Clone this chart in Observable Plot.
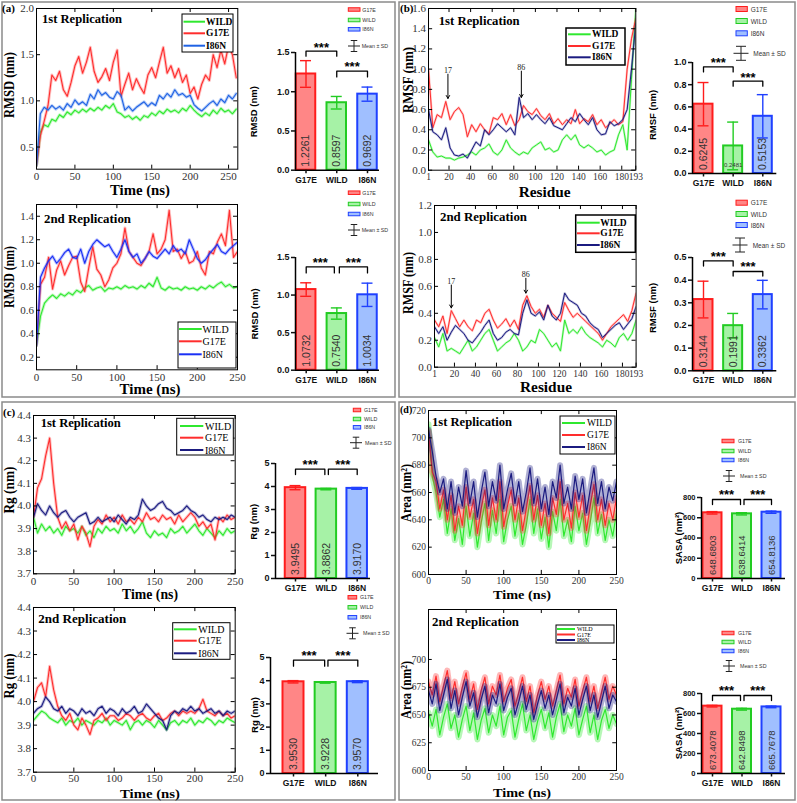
<!DOCTYPE html>
<html><head><meta charset="utf-8">
<script src="https://cdn.jsdelivr.net/npm/d3@7"></script>
<script src="https://cdn.jsdelivr.net/npm/@observablehq/plot@0.6"></script>
<style>
html,body{margin:0;padding:0;background:#fff}
body{position:relative;width:797px;height:803px;overflow:hidden}
</style></head><body>
<script>
// ---------------- DATA ----------------
const barCats = ["G17E","WILD","I86N"];
const lineNames = ["WILD","G17E","I86N"];

// (a) RMSD, 1st replication (every 5 ns)
const rmsdWild1 = [0.30,0.66,0.74,0.72,0.80,0.78,0.85,0.82,0.88,0.85,0.90,0.87,0.91,0.88,0.92,0.89,0.93,0.90,0.95,0.92,0.97,0.88,0.86,0.82,0.84,0.80,0.83,0.79,0.84,0.82,0.87,0.84,0.89,0.86,0.91,0.88,0.90,0.87,0.92,0.89,0.95,0.90,0.86,0.83,0.87,0.84,0.90,0.86,0.92,0.88,0.90,0.86,0.91];
const rmsdG17E1 = [0.30,0.62,0.78,0.95,1.28,1.22,1.32,1.12,1.05,1.20,1.38,1.48,1.30,1.42,1.58,1.32,1.20,1.26,1.35,1.22,1.42,1.55,1.05,1.18,1.30,1.12,1.24,1.15,1.08,1.28,1.36,1.25,1.42,1.58,1.30,1.38,1.25,1.35,1.20,1.28,1.08,1.15,1.02,1.18,1.28,1.22,1.50,1.36,1.55,1.40,1.60,1.50,1.25];
const rmsdI86N1 = [0.30,0.86,0.93,0.90,0.95,0.91,0.94,0.90,0.97,0.93,1.01,0.96,0.99,0.95,1.07,1.02,1.12,1.06,1.09,1.04,1.02,1.10,1.06,0.90,0.94,0.89,0.93,0.96,0.99,0.94,0.98,0.95,1.06,1.02,1.08,1.04,1.12,1.06,1.08,1.04,1.06,0.96,0.92,0.89,0.93,0.97,1.00,0.95,1.02,0.98,1.06,1.02,1.08];
// (a) RMSD, 2nd replication
const rmsdWild2 = [0.30,0.55,0.66,0.70,0.73,0.70,0.74,0.72,0.75,0.73,0.77,0.75,0.79,0.81,0.77,0.79,0.80,0.76,0.79,0.78,0.80,0.78,0.81,0.79,0.80,0.78,0.81,0.79,0.83,0.80,0.88,0.79,0.77,0.80,0.78,0.79,0.77,0.80,0.78,0.79,0.77,0.80,0.78,0.81,0.79,0.82,0.84,0.80,0.82,0.79,0.80];
const rmsdG17E2 = [0.30,0.82,0.88,1.05,0.78,0.94,1.02,0.90,0.98,1.05,1.06,0.84,0.76,0.96,1.14,0.95,0.90,0.80,0.86,0.96,1.00,1.08,1.30,1.10,1.05,1.00,0.98,1.04,1.10,1.25,1.08,1.12,1.20,1.45,1.10,1.12,1.04,1.10,1.00,1.02,1.10,0.96,0.90,1.10,1.08,1.18,1.25,1.15,1.45,1.05,1.10];
const rmsdI86N2 = [0.30,0.88,0.96,1.02,1.06,1.00,1.04,1.09,1.12,1.05,1.04,1.12,1.00,1.10,1.16,1.20,1.17,1.14,1.16,1.10,1.05,1.12,1.20,1.10,1.05,1.08,1.00,1.04,1.10,1.06,1.04,1.08,1.12,1.08,1.15,1.10,1.12,1.08,1.20,1.12,1.04,1.00,1.03,1.08,1.12,1.16,1.10,1.08,1.12,1.15,1.18];

// (b) RMSF, every 4 residues from 1 to 193
const rmsfWild1 = [0.30,0.18,0.13,0.14,0.12,0.12,0.10,0.12,0.13,0.15,0.18,0.15,0.20,0.22,0.26,0.18,0.15,0.20,0.30,0.22,0.18,0.15,0.18,0.16,0.22,0.25,0.28,0.20,0.22,0.18,0.20,0.30,0.35,0.30,0.35,0.25,0.22,0.25,0.22,0.18,0.20,0.15,0.18,0.20,0.35,0.45,0.20,0.90,1.60];
const rmsfG17E1 = [1.00,0.42,0.55,0.52,0.68,0.50,0.58,0.62,0.55,0.33,0.45,0.38,0.46,0.40,0.36,0.52,0.50,0.56,0.45,0.55,0.44,0.50,0.64,0.58,0.55,0.61,0.54,0.50,0.56,0.46,0.51,0.45,0.50,0.46,0.60,0.46,0.51,0.48,0.55,0.45,0.50,0.42,0.46,0.50,0.45,0.48,1.00,1.30,1.50];
const rmsfI86N1 = [0.60,0.38,0.35,0.30,0.42,0.22,0.15,0.14,0.16,0.12,0.20,0.28,0.24,0.40,0.35,0.40,0.46,0.42,0.38,0.42,0.35,0.72,0.52,0.56,0.50,0.55,0.50,0.46,0.52,0.44,0.42,0.40,0.46,0.52,0.48,0.56,0.50,0.45,0.52,0.40,0.35,0.36,0.48,0.44,0.46,0.50,0.60,1.00,1.45];
const rmsfWild2 = [0.22,0.15,0.25,0.12,0.14,0.12,0.10,0.15,0.20,0.12,0.15,0.20,0.25,0.28,0.20,0.12,0.15,0.18,0.20,0.25,0.20,0.12,0.15,0.20,0.18,0.28,0.25,0.20,0.15,0.18,0.12,0.35,0.25,0.28,0.25,0.30,0.25,0.22,0.20,0.18,0.15,0.20,0.18,0.15,0.22,0.25,0.20,0.25,0.35];
const rmsfG17E2 = [0.35,0.30,0.38,0.25,0.42,0.36,0.30,0.35,0.30,0.27,0.35,0.33,0.40,0.43,0.35,0.29,0.32,0.36,0.30,0.35,0.28,0.46,0.53,0.45,0.40,0.43,0.37,0.46,0.40,0.37,0.34,0.48,0.42,0.37,0.40,0.37,0.34,0.31,0.28,0.25,0.20,0.25,0.30,0.33,0.36,0.39,0.34,0.42,0.55];
const rmsfI86N2 = [0.30,0.25,0.30,0.20,0.26,0.31,0.28,0.25,0.20,0.18,0.22,0.26,0.31,0.35,0.25,0.20,0.22,0.26,0.28,0.25,0.24,0.40,0.50,0.40,0.38,0.41,0.35,0.46,0.38,0.35,0.40,0.55,0.50,0.48,0.46,0.40,0.38,0.33,0.30,0.28,0.22,0.25,0.28,0.31,0.33,0.28,0.32,0.36,0.45];

// (c) Rg
const rgWild1 = [3.95,3.88,3.92,3.89,3.91,3.88,3.90,3.87,3.91,3.89,3.90,3.88,3.91,3.87,3.89,3.86,3.90,3.88,3.91,3.89,3.90,3.88,3.92,3.89,3.91,3.88,3.90,3.93,3.88,3.86,3.89,3.87,3.88,3.86,3.90,3.88,3.89,3.91,3.88,3.90,3.92,3.89,3.87,3.90,3.88,3.86,3.89,3.87,3.90,3.88,3.89];
const rgG17E1 = [3.95,4.08,4.12,4.22,4.30,4.10,3.95,3.90,3.93,3.89,3.92,3.85,3.91,3.88,3.82,3.91,3.94,3.92,3.96,3.93,3.95,3.92,3.96,3.93,3.94,3.92,3.95,3.93,3.97,3.94,3.95,3.93,3.96,3.94,3.95,3.92,3.96,3.93,3.95,3.97,3.95,3.91,3.93,3.90,3.92,3.85,3.95,3.93,3.96,3.94,3.95];
const rgI86N1 = [3.95,4.01,3.98,3.96,4.00,3.97,3.95,3.97,3.98,3.95,3.93,3.95,3.96,3.97,3.92,3.93,3.95,3.93,3.94,3.95,3.93,3.96,3.94,3.92,3.95,3.94,3.96,4.03,4.00,3.98,3.99,4.01,4.02,3.99,3.98,3.96,3.97,3.98,4.00,3.98,3.97,3.95,3.96,3.94,3.93,3.95,3.94,3.95,3.94,3.96,3.95];
const rgWild2 = [3.92,3.94,3.96,3.95,3.93,3.92,3.91,3.93,3.90,3.92,3.91,3.93,3.90,3.92,3.91,3.90,3.92,3.91,3.93,3.90,3.92,3.91,3.90,3.92,3.88,3.91,3.92,3.90,3.92,3.91,3.89,3.92,3.90,3.88,3.91,3.92,3.90,3.92,3.91,3.93,3.90,3.92,3.91,3.93,3.92,3.90,3.92,3.91,3.93,3.92,3.91];
const rgG17E2 = [4.00,4.06,4.08,4.02,4.15,4.05,3.98,3.94,3.92,3.95,3.90,3.88,3.93,3.90,3.86,3.92,3.93,3.95,3.92,3.94,3.94,3.92,3.93,3.95,3.94,3.92,3.94,3.95,3.93,3.92,3.94,3.95,3.92,3.93,3.95,3.96,3.94,3.96,3.95,3.96,3.95,3.97,4.01,3.96,3.95,3.94,3.96,3.94,3.95,3.93,3.94];
const rgI86N2 = [3.95,3.97,3.98,4.02,4.00,3.97,3.96,3.98,3.95,3.97,3.96,3.94,3.97,3.95,3.96,3.94,3.97,3.98,3.95,3.97,3.96,3.94,3.97,3.95,3.96,3.98,3.95,3.96,3.99,3.97,3.95,3.93,3.92,3.88,3.94,3.96,3.95,3.97,3.96,3.98,3.96,3.97,3.95,3.96,3.97,3.95,3.96,3.94,3.96,3.95,3.96];

// (d) SASA
const sasaWild1 = [710,672,660,642,655,630,648,625,641,622,650,628,645,620,638,652,625,647,630,655,624,640,650,628,645,622,636,655,630,648,626,642,620,646,632,655,628,640,624,650,632,645,622,638,656,630,644,625,640,628,645];
const sasaG17E1 = [705,675,668,648,662,640,658,632,650,636,664,642,655,630,648,662,636,656,640,668,635,650,662,640,656,632,648,665,640,658,636,652,630,656,644,668,640,652,634,660,642,658,632,650,666,640,655,636,652,640,656];
const sasaI86N1 = [706,690,672,660,670,648,668,645,664,650,676,652,668,642,660,675,650,668,654,680,648,662,674,652,668,646,660,678,652,670,648,664,644,668,656,680,652,664,648,672,655,670,645,662,678,652,668,648,664,654,668];
const sasaWild2 = [652,640,655,632,648,660,638,650,630,646,658,636,652,628,645,656,634,650,640,658,632,648,654,630,646,660,636,650,628,644,655,638,652,630,648,660,635,650,640,656,632,646,658,634,650,628,645,655,638,650,642];
const sasaG17E2 = [680,668,685,662,676,690,665,680,660,675,688,664,678,655,672,684,660,676,668,686,662,674,682,658,670,684,662,676,652,668,680,664,676,658,672,686,660,674,666,682,658,672,684,662,676,656,670,684,664,676,668];
const sasaI86N2 = [672,660,678,654,668,682,656,672,650,666,680,658,670,648,664,676,652,668,660,678,654,666,674,650,662,676,655,668,646,660,672,656,668,650,664,678,652,666,658,674,650,664,676,654,668,648,662,676,656,668,662];

// bar charts: means and SD
const rmsdMean1 = [1.2261,0.8597,0.9692], rmsdSd1 = [0.17,0.08,0.09];
const rmsdMean2 = [1.0732,0.7540,1.0034], rmsdSd2 = [0.09,0.075,0.155];
const rmsfMean1 = [0.6245,0.2481,0.5153], rmsfSd1 = [0.195,0.215,0.195];
const rmsfMean2 = [0.3144,0.1991,0.3362], rmsfSd2 = [0.081,0.054,0.063];
const rgMean1 = [3.9495,3.8862,3.9170], rgSd1 = [0.09,0.03,0.04];
const rgMean2 = [3.9530,3.9228,3.9570], rgSd2 = [0.05,0.03,0.04];
const sasaMean1 = [648.6803,638.6414,654.8136], sasaSd1 = [12,11,11];
const sasaMean2 = [673.4078,642.8498,665.7678], sasaSd2 = [8,9,8];

// tick values
const timeTicks = [0,50,100,150,200,250];
const resTicks = [1,20,40,60,80,100,120,140,160,180,193];

// ---------------- STYLE ----------------
const SERIF = "'Liberation Serif','Times New Roman',serif";
const SANS = "'Liberation Sans',Arial,sans-serif";
const GREEN="#2fe82f", RED="#ff2d2d", BLUEA="#1f62e4", BLUEA2="#1a30f5", NAVY="#1b1b80";
const barFill=["#ff8686","#a6f2a6","#a0bfff"], barStroke=["#ff1c1c","#22cc22","#1f40ff"];

const mkT = (v)=>v.map((y,i)=>({x:i*5,y}));
const mkR = (v)=>v.map((y,i)=>({x:1+i*4,y}));

function place(node,x,y,z){const d=document.createElement("div");d.style.cssText=`position:absolute;left:${x}px;top:${y}px;z-index:${z||1}`;d.appendChild(node);document.body.appendChild(d);}

function lineChart(c){
  const padL=34,padR=8,padT=8,padB=22;
  const W=c.R-c.L+padL+padR, H=c.B-c.T+padT+padB;
  const [xa,xb]=c.xd,[ya,yb]=c.yd;
  const tx=(xb-xa)*0.02, ty=(yb-ya)*0.025;
  const fs=c.fs||11;
  const marks=[];
  for(const s of c.series){
    marks.push(Plot.line(s.data,{x:"x",y:"y",stroke:s.color,strokeWidth:c.halo||3,strokeOpacity:c.ho||0.3,clip:true}));
    marks.push(Plot.line(s.data,{x:"x",y:"y",stroke:s.color,strokeWidth:c.sw||1.1,clip:true}));
  }
  marks.push(
    Plot.ruleX(c.xt,{x:d=>d,y1:()=>ya,y2:()=>ya+ty,stroke:"#000"}),
    Plot.ruleX(c.xt,{x:d=>d,y1:()=>yb-ty,y2:()=>yb,stroke:"#000"}),
    Plot.ruleY(c.yt,{y:d=>d,x1:()=>xa,x2:()=>xa+tx,stroke:"#000"}),
    Plot.ruleY(c.yt,{y:d=>d,x1:()=>xb-tx,x2:()=>xb,stroke:"#000"}),
    Plot.frame({stroke:"#000",strokeWidth:1}),
    Plot.axisX({ticks:c.xt,tickSize:0,tickPadding:c.tp||3,label:null,fontSize:c.xfs||fs}),
    Plot.axisY({ticks:c.yt,tickSize:0,tickPadding:2.5,tickFormat:d3.format(c.yf),label:null,fontSize:fs})
  );
  if(c.arrows){
    marks.push(Plot.arrow(c.arrows,{x1:"x",x2:"x",y1:"y1",y2:"y2",stroke:"#000",strokeWidth:1,headLength:5}));
    marks.push(Plot.text(c.arrows,{x:"x",y:"yt",text:"lab",fontSize:8,fill:"#222"}));
  }
  const svg=Plot.plot({width:W,height:H,marginLeft:padL,marginRight:padR,marginTop:padT,marginBottom:padB,
    x:{domain:c.xd,label:null},y:{domain:c.yd,label:null},
    style:{fontFamily:SERIF,fontSize:fs+"px",color:"#333",background:"transparent",overflow:"visible",maxWidth:"none"},
    marks});
  place(svg,c.L-padL,c.T-padT,1);
}

function barChart(c){
  const k=(c.c2-c.c0)/2;
  const xd=[-(c.c0-c.ax)/k, 2+(c.rx-c.c2)/k];
  const p2v=py=>(c.zy-py)/(c.zy-c.ty)*c.ymax;
  const hw=c.bw/2/k, cw=c.cw/2/k;
  const rows=barCats.map((cat,i)=>({i,cat,mean:c.mean[i],sd:c.sd[i],fill:barFill[i],stroke:barStroke[i]}));
  const fmt=d3.format(".4f");
  const padL=36,padR=6,padT=50,padB=22;
  const marks=[
    Plot.rect(rows,{x1:d=>d.i-hw,x2:d=>d.i+hw,y1:()=>0,y2:"mean",fill:d=>d.fill,stroke:d=>d.stroke,strokeWidth:2}),
    Plot.ruleX(rows,{x:"i",y1:d=>d.mean-d.sd,y2:d=>d.mean+d.sd,stroke:d=>d.stroke,strokeWidth:1.4}),
    Plot.ruleY(rows,{y:d=>d.mean+d.sd,x1:d=>d.i-cw,x2:d=>d.i+cw,stroke:d=>d.stroke,strokeWidth:1.4}),
    Plot.ruleY(rows,{y:d=>d.mean-d.sd,x1:d=>d.i-cw,x2:d=>d.i+cw,stroke:d=>d.stroke,strokeWidth:1.4}),
    Plot.text(rows.filter(d=>!(c.small||[]).includes(d.i)),{x:"i",y:()=>0,text:d=>fmt(d.mean),rotate:-90,textAnchor:"start",dy:-3.5,fontSize:c.vfs||10.5,fill:"#333",fontWeight:"normal"}),
    Plot.text(rows.filter(d=>(c.small||[]).includes(d.i)),{x:"i",y:()=>0,text:d=>fmt(d.mean),dy:-8,fontSize:6,fill:"#333",fontWeight:"normal"}),
    Plot.ruleX([xd[0]],{x:d=>d,stroke:"#000",strokeWidth:1.5}),
    Plot.ruleY([0],{y:d=>d,stroke:"#000",strokeWidth:1.5}),
    Plot.axisY({ticks:c.yt,tickSize:4,tickPadding:2,tickFormat:d3.format(c.yf),label:null,fontSize:c.tfs||9,fontWeight:"bold",strokeWidth:1.5}),
    Plot.axisX({ticks:[0,1,2],tickFormat:i=>barCats[i],tickSize:3.5,tickPadding:3,label:null,fontSize:8.5,fontWeight:"bold",strokeWidth:1.5})
  ];
  for(const b of c.br){
    const xa=b.a+(b.oa||0)/k, xb=b.b+(b.ob||0)/k;
    marks.push(Plot.line([{x:xa,y:p2v(b.leg)},{x:xa,y:p2v(b.line)},{x:xb,y:p2v(b.line)},{x:xb,y:p2v(b.leg)}],{x:"x",y:"y",stroke:"#000",strokeWidth:1.3}));
    marks.push(Plot.text([{x:(xa+xb)/2,y:p2v(b.star)}],{x:"x",y:"y",text:()=>"***",fontSize:13,fontWeight:"bold",dy:3.2,fill:"#000"}));
  }
  const W=c.rx-c.ax+padL+padR, H=c.zy-c.ty+padT+padB;
  const svg=Plot.plot({width:W,height:H,marginLeft:padL,marginRight:padR,marginTop:padT,marginBottom:padB,
    x:{domain:xd,label:null},y:{domain:[0,c.ymax],label:null},
    style:{fontFamily:SANS,fontSize:"9px",color:"#111",background:"transparent",overflow:"visible",maxWidth:"none"},
    marks});
  place(svg,c.ax-padL,c.ty-padT,1);
}

// ---------------- LINE CHARTS ----------------
const S3=(w,g,b,blue)=>[{data:w,color:GREEN},{data:g,color:RED},{data:b,color:blue}];
lineChart({L:35.7,T:8.3,R:237,B:169,xd:[0,262],yd:[0.26,2.0],xt:timeTicks,yt:[0.5,1.0,1.5,2.0],yf:".1f",
  series:S3(mkT(rmsdWild1),mkT(rmsdG17E1),mkT(rmsdI86N1),BLUEA)});
lineChart({L:35.7,T:204,R:236.7,B:369.3,xd:[0,250],yd:[0.093,1.5],xt:timeTicks,yt:[0.2,0.4,0.6,0.8,1.0,1.2,1.4],yf:".1f",
  series:S3(mkT(rmsdWild2),mkT(rmsdG17E2),mkT(rmsdI86N2),BLUEA2)});
lineChart({L:428,T:8.3,R:635.3,B:170,xd:[1,193],yd:[0,1.6],xt:resTicks,yt:[0,0.2,0.4,0.6,0.8,1.0,1.2,1.4,1.6],yf:".1f",halo:2.2,sw:1,xfs:9.5,
  series:S3(mkR(rmsfWild1),mkR(rmsfG17E1),mkR(rmsfI86N1),NAVY),
  arrows:[{x:19,yt:0.99,y1:0.95,y2:0.71,lab:"17"},{x:87,yt:1.02,y1:0.98,y2:0.72,lab:"86"}]});
lineChart({L:433.7,T:205,R:635.3,B:366.7,xd:[1,193],yd:[0,1.2],xt:resTicks,yt:[0,0.2,0.4,0.6,0.8,1.0,1.2],yf:".1f",halo:2.2,sw:1,xfs:9.5,
  series:S3(mkR(rmsfWild2),mkR(rmsfG17E2),mkR(rmsfI86N2),NAVY),
  arrows:[{x:17,yt:0.64,y1:0.61,y2:0.44,lab:"17"},{x:88,yt:0.69,y1:0.66,y2:0.55,lab:"86"}]});
lineChart({L:33.3,T:415,R:235,B:573.3,xd:[0,250],yd:[3.7,4.4],xt:timeTicks,yt:[3.7,3.8,3.9,4.0,4.1,4.2,4.3,4.4],yf:".1f",
  series:S3(mkT(rgWild1),mkT(rgG17E1),mkT(rgI86N1),NAVY)});
lineChart({L:33.3,T:607.3,R:235,B:772,xd:[0,250],yd:[3.7,4.4],xt:timeTicks,yt:[3.7,3.8,3.9,4.0,4.1,4.2,4.3,4.4],yf:".1f",tp:2,
  series:S3(mkT(rgWild2),mkT(rgG17E2),mkT(rgI86N2),NAVY)});
lineChart({L:428,T:410,R:616,B:574,xd:[0,250],yd:[600,720],xt:timeTicks,yt:[600,620,640,660,680,700,720],yf:"d",halo:6,ho:0.35,sw:1.2,fs:9.5,tp:2.5,
  series:S3(mkT(sasaWild1),mkT(sasaG17E1),mkT(sasaI86N1),NAVY)});
lineChart({L:428,T:609,R:616,B:770,xd:[0,250],yd:[600,745],xt:timeTicks,yt:[600,625,650,675,700],yf:"d",halo:6,ho:0.35,sw:1.2,fs:9.5,tp:2.5,
  series:S3(mkT(sasaWild2),mkT(sasaG17E2),mkT(sasaI86N2),NAVY)});

// ---------------- BAR CHARTS ----------------
barChart({ax:295,rx:379,c0:305.5,c2:367,zy:170,ty:52.3,ymax:1.5,bw:19.5,cw:11,yt:[0,0.5,1.0,1.5],yf:".1f",mean:rmsdMean1,sd:rmsdSd1,
  br:[{a:0,b:1,line:51,leg:56,star:44},{a:1,b:2,line:71,leg:76.7,star:63.5}]});
barChart({ax:295,rx:379,c0:305.7,c2:367,zy:370,ty:257.3,ymax:1.5,bw:19.5,cw:11,yt:[0,0.5,1.0,1.5],yf:".1f",mean:rmsdMean2,sd:rmsdSd2,
  br:[{a:0,b:1,ob:-2.5,line:266.7,leg:272.7,star:259.3},{a:1,b:2,oa:2.5,line:266.7,leg:272.7,star:259.3}]});
barChart({ax:691.7,rx:776,c0:702.7,c2:762,zy:173.3,ty:62.3,ymax:1.0,bw:19,cw:11,yt:[0,0.2,0.4,0.6,0.8,1.0],yf:".1f",mean:rmsfMean1,sd:rmsfSd1,small:[1],
  br:[{a:0,b:1,line:66.7,leg:71.7,star:59.3},{a:1,b:2,line:81,leg:86,star:74}]});
barChart({ax:691.7,rx:776,c0:702.7,c2:762,zy:370,ty:256.7,ymax:0.5,bw:19,cw:11,yt:[0,0.1,0.2,0.3,0.4,0.5],yf:".1f",mean:rmsfMean2,sd:rmsfSd2,
  br:[{a:0,b:1,line:260,leg:265.3,star:252.7},{a:1,b:2,line:270.7,leg:275.3,star:262.7}]});
barChart({ax:275,rx:370,c0:295,c2:356.7,zy:578.3,ty:463.3,ymax:5,bw:20.5,cw:11,yt:[0,1,2,3,4,5],yf:"d",mean:rgMean1,sd:rgSd1,
  br:[{a:0,b:1,ob:-1.5,line:469,leg:474.3,star:461.7},{a:1,b:2,oa:2,line:469,leg:474.3,star:461.7}]});
barChart({ax:270,rx:378,c0:293,c2:357.3,zy:773.3,ty:657.3,ymax:5,bw:21,cw:11,yt:[0,1,2,3,4,5],yf:"d",mean:rgMean2,sd:rgSd2,
  br:[{a:0,b:1,ob:-1,line:660,leg:666,star:652.7},{a:1,b:2,oa:2.3,line:660,leg:666,star:652.7}]});
barChart({ax:701,rx:785,c0:712,c2:771,zy:578,ty:497,ymax:800,bw:19,cw:11,yt:[0,200,400,600,800],yf:"d",mean:sasaMean1,sd:sasaSd1,vfs:9.5,tfs:7.5,
  br:[{a:0,b:1,ob:-1.5,line:499,leg:504,star:491.5},{a:1,b:2,oa:2,line:499,leg:504,star:491.5}]});
barChart({ax:701,rx:785,c0:712,c2:771,zy:773,ty:693,ymax:800,bw:19,cw:11,yt:[0,200,400,600,800],yf:"d",mean:sasaMean2,sd:sasaSd2,vfs:9.5,tfs:7.5,
  br:[{a:0,b:1,ob:-1.5,line:695,leg:700,star:687.5},{a:1,b:2,oa:2,line:695,leg:700,star:687.5}]});

// ---------------- OVERLAY (frames, titles, legends, labels) ----------------
const ov=d3.create("svg").attr("width",797).attr("height",803)
  .style("position","absolute").style("left","0px").style("top","0px").style("z-index","5").style("overflow","visible");
function T(str,x,y,o={}){
  const e=ov.append("text").attr("x",x).attr("y",y).text(str)
    .attr("font-family",o.f||SERIF).attr("font-size",o.s||12).attr("font-weight",o.w||"normal")
    .attr("fill",o.c||"#000").attr("text-anchor",o.a||"start").attr("dominant-baseline",o.b||"central");
  if(o.r) e.attr("transform",`rotate(${o.r},${x},${y})`);
  if(o.len) e.attr("textLength",o.len).attr("lengthAdjust","spacingAndGlyphs");
  return e;
}
function R(x,y,w,h,o={}){return ov.append("rect").attr("x",x).attr("y",y).attr("width",w).attr("height",h)
  .attr("fill",o.fill||"none").attr("stroke",o.stroke||"#000").attr("stroke-width",o.sw||1);}
function L(x1,y1,x2,y2,col,sw){return ov.append("line").attr("x1",x1).attr("y1",y1).attr("x2",x2).attr("y2",y2).attr("stroke",col).attr("stroke-width",sw||1);}

// panel frames
R(2,2,393,395,{stroke:"#8a8a8a",sw:1.5});
R(399,2,396,395,{stroke:"#8a8a8a",sw:1.5});
R(2,402,393,398,{stroke:"#8a8a8a",sw:1.5});
R(399,402,396,398,{stroke:"#8a8a8a",sw:1.5});
T("(a)",2,8,{s:11,w:"bold"}); T("(b)",400,8,{s:11,w:"bold"});
T("(c)",3,412,{s:11,w:"bold"}); T("(d)",400,409,{s:10,w:"bold"});

// titles
const titles=[["1st Replication",42,19,80],["2nd Replication",44,219,87],["1st Replication",438.7,20.7,81],["2nd Replication",440,217,87],
  ["1st Replication",40.7,422.7,80],["2nd Replication",38.3,619,88],["1st Replication",432,422,80],["2nd Replication",432,622,87]];
for(const [s,x,y,len] of titles) T(s,x,y,{s:12.5,w:"bold",len});

// axis labels of line charts
const axl=[["Time (ns)",140,190.5,60,14],["Time (ns)",150,389,61,14],["Residue",544.7,192,52,14],["Residue",546,387.5,52,14],
  ["Time (ns)",150,594.5,56,14],["Time (ns)",150,793,60,13.5],["Time (ns)",522,594.5,58,13.5],["Time (ns)",522,792.5,58,13.5]];
for(const [s,x,y,len,fs] of axl) T(s,x,y,{s:fs,w:"bold",a:"middle",len});
const ayl=[["RMSD (nm)",9.5,85,66],["RMSD (nm)",9.5,277,62],["RMSF (nm)",408,80,66],["RMSF (nm)",408,283,62],
  ["Rg (nm)",9,490,47],["Rg (nm)",9,676,45],["Area (nm²)",406,493,58],["Area (nm²)",406,690,58]];
for(const [s,x,y,len] of ayl) T(s,x,y,{s:14,w:"bold",a:"middle",len,r:-90});

// y labels of bar charts
const byl=[["RMSD (nm)",254,111.7],["RMSD (nm)",254,314],["RMSF (nm)",652.5,115],["RMSF (nm)",652.5,308],
  ["Rg (nm)",254,521.7],["Rg (nm)",254,715],["SASA (nm²)",678.5,538],["SASA (nm²)",678.5,733]];
for(const [s,x,y] of byl) T(s,x,y,{s:9.5,w:"bold",f:SANS,a:"middle",r:-90});

// legends of line charts
function lineLegend(box,ys,sw,tx,cols,o){
  R(box[0],box[1],box[2]-box[0],box[3]-box[1],{fill:"#fff",stroke:"#000",sw:o.bw||1});
  lineNames.forEach((n,i)=>{L(sw[0],ys[i],sw[1],ys[i],cols[i],2); T(n,tx,ys[i],{s:o.s||10,w:o.w||"normal"});});
}
lineLegend([182,14,233,52],[21.7,33.3,45.7],[183.5,205],206,[GREEN,RED,BLUEA],{s:9.5,w:"bold"});
lineLegend([178,322,236,368],[329,341.3,354.3],[179,201.7],202.5,[GREEN,RED,BLUEA2],{s:10});
lineLegend([566,28,625,65],[34.3,46,57.3],[568,590.7],592,[GREEN,RED,NAVY],{s:9.5,w:"bold",bw:1.5});
lineLegend([575.7,215,635.3,252.3],[222.7,233.3,245],[577,599.7],600.3,[GREEN,RED,NAVY],{s:9.5,w:"bold",bw:1.5});
lineLegend([176.7,418.3,233.3,455],[426,437.7,450],[180,203.3],205,[GREEN,RED,NAVY],{s:10});
lineLegend([172.7,622.7,230,659.3],[629.3,640.7,653.3],[174,196.7],198.3,[GREEN,RED,NAVY],{s:10});
lineLegend([560,416,615,454],[423,435,447],[562,585],587,[GREEN,RED,NAVY],{s:9.5});
lineLegend([556,625,614,643],[629,634.5,640],[557,575],577,[GREEN,RED,NAVY],{s:6});

// legends of bar charts
function barLegend(sw,ys,tx,ms,o){
  const h=o.h||3.5;
  barCats.forEach((n,i)=>{R(sw[0],ys[i]-h/2,sw[1]-sw[0],h,{fill:barFill[i],stroke:barStroke[i],sw:1}); T(n,tx,ys[i],{s:o.s,f:SANS,c:"#333"});});
  const vh=o.vh||11, cap=o.cap||6.5, hl=o.hl||12;
  L(ms.cx,ms.cy-vh/2,ms.cx,ms.cy+vh/2,"#222",1);
  L(ms.cx-cap/2,ms.cy-vh/2,ms.cx+cap/2,ms.cy-vh/2,"#222",1);
  L(ms.cx-cap/2,ms.cy+vh/2,ms.cx+cap/2,ms.cy+vh/2,"#222",1);
  L(ms.cx-hl/2,ms.cy,ms.cx+hl/2,ms.cy,"#222",1);
  T("Mean ± SD",ms.tx,ms.cy,{s:o.s,f:SANS,c:"#333"});
}
barLegend([348.3,360],[9.5,20,29.3],362.3,{cx:354,cy:46,tx:361.7},{s:5.3});
barLegend([348.3,360],[192.7,204,214],362.3,{cx:354,cy:230,tx:361.7},{s:5.3});
barLegend([736,747.3],[9,21,33.3],750.7,{cx:741,cy:53.3,tx:753.3},{s:6.5,h:5,vh:14,cap:10,hl:15});
barLegend([736,747.3],[202.7,214,225],750.7,{cx:740,cy:245,tx:752.7},{s:6.5,h:5,vh:14,cap:10,hl:15});
barLegend([353.3,360.7],[410,419,427.3],364,{cx:356,cy:442.7,tx:365},{s:5.3});
barLegend([348,356.7],[597.3,607.3,617.3],360,{cx:352.5,cy:633.3,tx:363},{s:5.3});
barLegend([722,734],[441,451,460],738,{cx:729,cy:476,tx:740},{s:5.3});
barLegend([722,734],[633,642,651],738,{cx:729,cy:666,tx:740},{s:5.3});

document.body.appendChild(ov.node());
</script></body></html>
